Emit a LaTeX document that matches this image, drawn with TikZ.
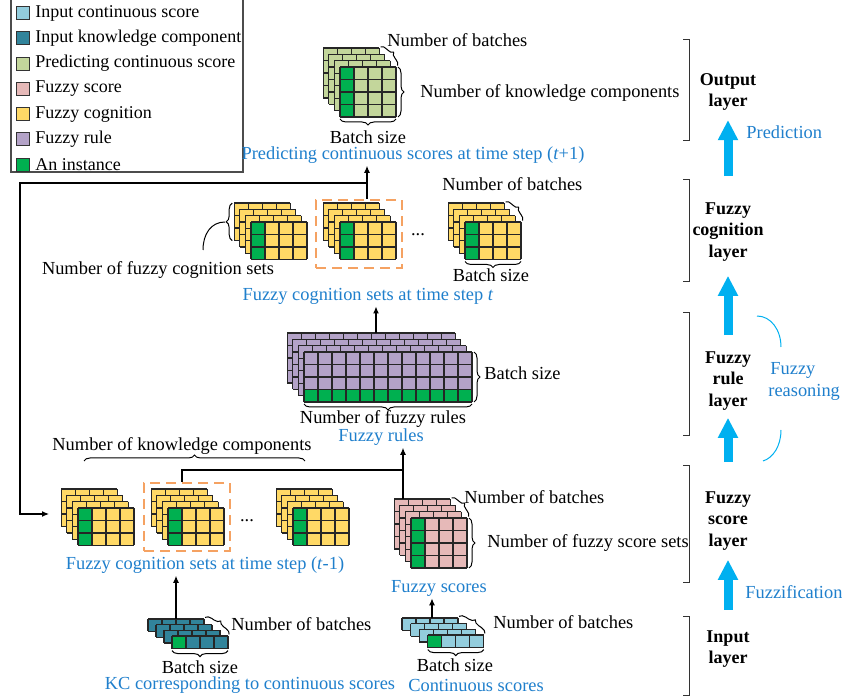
\documentclass[tikz,border=0pt]{standalone}
\usepackage{fontspec}
\setmainfont{Liberation Serif}
\usepackage{xcolor}
\usetikzlibrary{arrows.meta,decorations.pathreplacing}
\definecolor{inputcs}{HTML}{93CDDD}
\definecolor{inputkc}{HTML}{31849B}
\definecolor{predcs}{HTML}{C3D69B}
\definecolor{fscore}{HTML}{E6B9B8}
\definecolor{fcog}{HTML}{FFD966}
\definecolor{frule}{HTML}{B3A2C7}
\definecolor{instgreen}{HTML}{00B050}
\definecolor{txtblue}{HTML}{1F7FCC}
\definecolor{cyanarr}{HTML}{00B0F0}
\definecolor{dashor}{HTML}{F5A262}
\tikzset{
  cellline/.style={draw=black!85,line width=0.65pt},
  inst/.style={fill=instgreen},
  legsq/.style={draw=black!80,line width=0.5pt,minimum size=6.5pt,inner sep=0pt},
  legtxt/.style={anchor=west,inner sep=1pt},
  bluetxt/.style={text=txtblue,inner sep=1pt},
  layertxt/.style={font=\fontsize{9}{10.8}\selectfont\bfseries,align=center,inner sep=0pt},
  brace/.style={decorate,decoration={brace,amplitude=3pt,raise=1pt},line width=0.5pt},
  flowarr/.style={-{Latex[length=3.5pt,width=3pt]},line width=0.6pt},
  flowline/.style={line width=0.6pt},
  bigarr/.style={-{Triangle[length=10pt,width=9.5pt]},line width=4.5pt,draw=cyanarr},
  dashbox/.style={draw=dashor,dash pattern=on 5pt off 3pt,line width=1pt,
                  minimum width=43pt,minimum height=34pt,inner sep=0pt},
  bracket/.style={line width=0.5pt,draw=black!80},
  reasonarc/.style={line width=0.5pt,draw=cyanarr}
}
% four stacked layers of cells: name, back corner x/y, cols, rows, layer shift x/y, colour, instance (c = column, r = row)
\newcommand{\cellstack}[9]{%
  \foreach \k in {0,...,3}{%
    \begin{scope}[shift={({#2+\k*#6},{#3+\k*#7})}]
      \fill[#8] (0,0) rectangle ({#4*14},{#5*12.5});
      \ifnum\k=3
        \if#9c\fill[inst] (0,0) rectangle (14,{#5*12.5});\else
        \fill[inst] (0,{(#5-1)*12.5}) rectangle ({#4*14},{#5*12.5});\fi
      \fi
      \foreach \i in {0,...,#4} \draw[cellline] ({\i*14},0) -- ({\i*14},{#5*12.5});
      \foreach \j in {0,...,#5} \draw[cellline] (0,{\j*12.5}) -- ({#4*14},{\j*12.5});
    \end{scope}}
  \coordinate (#1-b) at (#2,#3);
  \coordinate (#1-bbl) at (#2,{#3+#5*12.5});
  \coordinate (#1-br) at ({#2+#4*14},#3);
  \coordinate (#1-f) at ({#2+3*#6},{#3+3*#7});
  \coordinate (#1-ftr) at ({#2+3*#6+#4*14},{#3+3*#7});
  \coordinate (#1-fbr) at ({#2+3*#6+#4*14},{#3+3*#7+#5*12.5});
  \coordinate (#1-fbl) at ({#2+3*#6},{#3+3*#7+#5*12.5});
}

\begin{document}
\begin{tikzpicture}[x=0.5pt,y=-0.5pt,font=\fontsize{9.2}{11}\selectfont]
  \useasboundingbox (0,0) rectangle (842,700);

  % legend
  \draw[line width=0.6pt,draw=black!70] (11,-2) rectangle (243,172);
  \foreach \c/\t [count=\n from 0] in {inputcs/Input continuous score,
      inputkc/Input knowledge component, predcs/Predicting continuous score,
      fscore/Fuzzy score, fcog/Fuzzy cognition, frule/Fuzzy rule, instgreen/An instance}{
    \node[legsq,fill=\c] (lsq\n) at (22.5,{13+25.3*\n}) {};
    \node[legtxt,font=\fontsize{9}{11}\selectfont] (ltx\n) at (33,{13+25.3*\n}) {\t};
  }

  % output: predicted scores
  \cellstack{pred}{323.2}{48.1}{4}{4}{5.6}{6.3}{predcs}{c}
  \draw[brace] (pred-br) -- (pred-ftr);
  \draw[brace] (pred-ftr) -- (pred-fbr);
  \draw[brace] (pred-fbr) -- (pred-fbl);
  \node[anchor=west,inner sep=1pt] (predb) at (385,40) {Number of batches};
  \node[anchor=west,inner sep=1pt] (predk) at (418,93) {Number of knowledge components};
  \node[inner sep=1pt] (preds) at (368,137) {Batch size};
  \node[bluetxt] (predlbl) at (413,155) {Predicting continuous scores at time step (\textit{t}+1)};

  % fuzzy cognition at t
  \cellstack{cogA}{234.2}{203.1}{4}{3}{5.6}{6.3}{fcog}{c}
  \cellstack{cogB}{323.2}{203.1}{4}{3}{5.6}{6.3}{fcog}{c}
  \cellstack{cogC}{448.2}{203.1}{4}{3}{5.6}{6.3}{fcog}{c}
  \node[dashbox] (boxt) at (359,234) {};
  \node[inner sep=1pt] (dots1) at (418,235) {...};
  \draw[brace] (cogC-br) -- (cogC-ftr);
  \draw[brace] (cogC-fbr) -- (cogC-fbl);
  \node[anchor=west,inner sep=1pt] (cogb) at (440,184) {Number of batches};
  \node[inner sep=1pt] (cogs) at (491,275) {Batch size};
  \draw[brace] (cogA-bbl) -- (cogA-b);
  \coordinate (cogtip) at (225,222);
  \coordinate (cogend) at (203,250);
  \draw[line width=0.5pt] (cogtip) .. controls (211,222) and (203,234) .. (cogend);
  \node[inner sep=1pt] (cogn) at (158,270) {Number of fuzzy cognition sets};
  \node[bluetxt] (cogtlbl) at (368,296) {Fuzzy cognition sets at time step \textit{t}};

  % fuzzy rules
  \cellstack{rule}{287.2}{333.1}{12}{4}{5.6}{6.3}{frule}{r}
  \draw[brace] (rule-ftr) -- (rule-fbr);
  \draw[brace] (rule-fbr) -- (rule-fbl);
  \node[anchor=west,inner sep=1pt] (rules) at (482,373) {Batch size};
  \node[inner sep=1pt] (rulen) at (383,419) {Number of fuzzy rules};
  \node[bluetxt] (rulelbl) at (381,437) {Fuzzy rules};
  \coordinate (ruletop) at (376,333);
  \draw[flowarr] (ruletop) -- (ruletop |- cogtlbl.south);

  % fuzzy cognition at t-1
  \cellstack{oldA}{61.2}{489.1}{4}{3}{5.6}{6.3}{fcog}{c}
  \cellstack{oldB}{151.2}{489.1}{4}{3}{5.6}{6.3}{fcog}{c}
  \cellstack{oldC}{276.2}{489.1}{4}{3}{5.6}{6.3}{fcog}{c}
  \node[dashbox] (boxp) at (187,517) {};
  \node[inner sep=1pt] (dots2) at (247,521) {...};
  \coordinate (kn1) at (84,463);
  \coordinate (kn2) at (305,463);
  \draw[brace] (kn1) -- (kn2);
  \node[inner sep=1pt] (oldk) at (182,446) {Number of knowledge components};
  \node[bluetxt] (oldlbl) at (205,565) {Fuzzy cognition sets at time step (\textit{t}-1)};

  % fuzzy scores
  \cellstack{fsc}{394.2}{499.1}{4}{4}{5.6}{6.3}{fscore}{c}
  \draw[brace] (fsc-br) -- (fsc-ftr);
  \draw[brace] (fsc-ftr) -- (fsc-fbr);
  \node[anchor=west,inner sep=1pt] (fscb) at (462,497) {Number of batches};
  \node[anchor=west,inner sep=1pt] (fscn) at (485,543) {Number of fuzzy score sets};
  \node[bluetxt] (fsclbl) at (439,588) {Fuzzy scores};

  % inputs
  \cellstack{kc}{148}{619}{4}{1}{8}{5.7}{inputkc}{c}
  \draw[brace] (kc-br) -- (kc-ftr);
  \draw[brace] (kc-fbr) -- (kc-fbl);
  \node[anchor=west,inner sep=1pt] (kcb) at (229,624) {Number of batches};
  \node[inner sep=1pt] (kcs) at (200,667) {Batch size};
  \node[bluetxt] (kclbl) at (250,685) {KC corresponding to continuous scores};

  \cellstack{cs}{402}{618}{4}{1}{8.6}{5.7}{inputcs}{c}
  \draw[brace] (cs-br) -- (cs-ftr);
  \draw[brace] (cs-fbr) -- (cs-fbl);
  \node[anchor=west,inner sep=1pt] (csb) at (491,622) {Number of batches};
  \node[inner sep=1pt] (css) at (455,665) {Batch size};
  \node[bluetxt] (cslbl) at (476,685) {Continuous scores};

  % connectors
  \coordinate (kctop) at (176,619);
  \draw[flowarr] (kctop) -- (kctop |- oldlbl.south);
  \coordinate (cstop) at (432,618);
  \draw[flowarr] (cstop) -- (cstop |- fsclbl.south);
  \coordinate (jp) at (182,470);
  \coordinate (jr) at (403,470);
  \coordinate (fsctop) at (403,499);
  \draw[flowline] (jp |- boxp.north) -- (jp) -- (jr);
  \draw[flowline] (fsctop) -- (jr);
  \draw[flowarr] (jr) -- (jr |- rulelbl.south);
  \coordinate (jt) at (367,183);
  \coordinate (fbl) at (20,183);
  \coordinate (fbin) at (49,514);
  \draw[flowarr] (jt |- boxt.north) -- (jt |- predlbl.south);
  \draw[flowarr] (jt) -- (fbl) |- (fbin);

  % layers
  \node[layertxt] (outl) at (728,92) {Output\\layer};
  \node[layertxt] (cogl) at (728,232) {Fuzzy\\cognition\\layer};
  \node[layertxt] (rull) at (728,381) {Fuzzy\\rule\\layer};
  \node[layertxt] (scol) at (728,521) {Fuzzy\\score\\layer};
  \node[layertxt] (inl) at (728,649) {Input\\layer};
  \draw[bracket] (683,40) -| (689,141) -- (683,141);
  \draw[bracket] (683,180) -| (689,282) -- (683,282);
  \draw[bracket] (683,313) -| (689,436) -- (683,436);
  \draw[bracket] (683,466) -| (689,583) -- (683,583);
  \draw[bracket] (683,617) -| (689,695) -- (683,695);
  \draw[bigarr,shorten <=13pt,shorten >=4.5pt] (cogl.north) -- (outl.south);
  \draw[bigarr,shorten <=8pt,shorten >=7pt] (rull.north) -- (cogl.south);
  \draw[bigarr,shorten <=14.5pt,shorten >=3.5pt] (scol.north) -- (rull.south);
  \draw[bigarr,shorten <=10pt,shorten >=4.5pt] (inl.north) -- (scol.south);
  \node[bluetxt,anchor=west] (predtx) at (744,132) {Prediction};
  \node[bluetxt,anchor=west] (fuzztx) at (743,592) {Fuzzification};
  \node[bluetxt,anchor=west,align=left] (reastx) at (766,381) {\hspace*{1pt}Fuzzy\\reasoning};
  \coordinate (ra1) at (757,316);
  \coordinate (ra2) at (781,347);
  \coordinate (rb1) at (781,430);
  \coordinate (rb2) at (763,461);
  \draw[reasonarc] (ra1) .. controls (771,316) and (781,330) .. (ra2);
  \draw[reasonarc] (rb1) .. controls (781,446) and (773,458) .. (rb2);
\end{tikzpicture}
\end{document}
